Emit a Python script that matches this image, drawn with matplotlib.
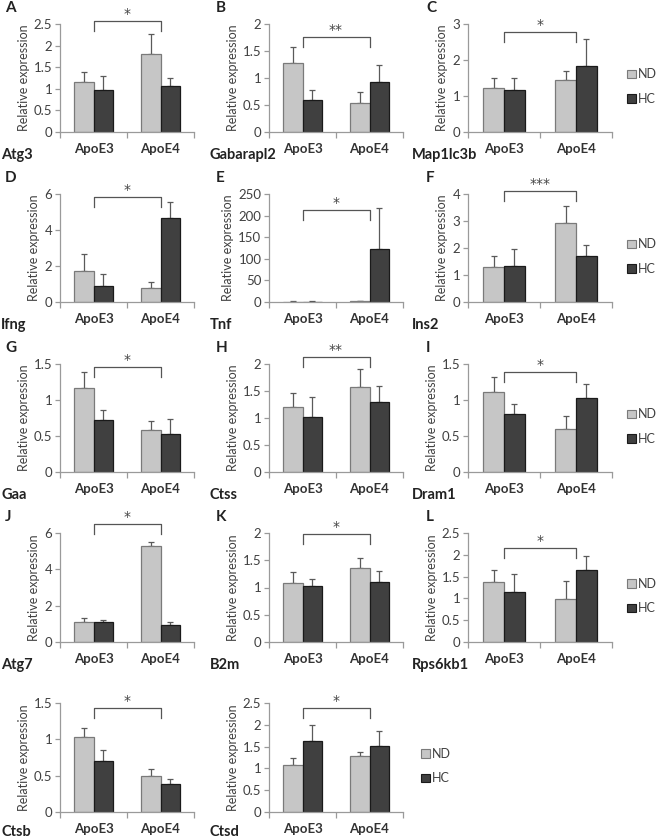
import matplotlib
matplotlib.use('Agg')
import matplotlib.pyplot as plt
from matplotlib.patches import Patch
from matplotlib.ticker import FuncFormatter, MultipleLocator

plt.rcParams['font.family'] = ['Lato', 'DejaVu Sans']

# ---------------- data ----------------
groups = ['ApoE3', 'ApoE4']
series = ['ND', 'HC']
genes = ['Atg3', 'Gabarapl2', 'Map1lc3b', 'Ifng', 'Tnf', 'Ins2', 'Gaa', 'Ctss',
         'Dram1', 'Atg7', 'B2m', 'Rps6kb1', 'Ctsb', 'Ctsd']
letters = ['A', 'B', 'C', 'D', 'E', 'F', 'G', 'H', 'I', 'J', 'K', 'L', '', '']

nd_mean = [[1.16, 1.80], [1.27, 0.53], [1.21, 1.44], [1.73, 0.78], [1.0, 2.0],
           [1.28, 2.91], [1.16, 0.58], [1.20, 1.58], [1.11, 0.60], [1.08, 5.30],
           [1.08, 1.36], [1.37, 0.98], [1.03, 0.50], [1.08, 1.29]]
nd_err = [[0.22, 0.48], [0.31, 0.21], [0.30, 0.25], [0.91, 0.34], [0.3, 1.0],
          [0.42, 0.64], [0.23, 0.13], [0.27, 0.32], [0.21, 0.18], [0.22, 0.18],
          [0.20, 0.19], [0.28, 0.41], [0.12, 0.09], [0.17, 0.08]]
hc_mean = [[0.97, 1.06], [0.60, 0.93], [1.16, 1.83], [0.89, 4.68], [1.0, 122],
           [1.33, 1.71], [0.72, 0.53], [1.02, 1.29], [0.81, 1.03], [1.08, 0.93],
           [1.02, 1.11], [1.14, 1.66], [0.70, 0.39], [1.63, 1.52]]
hc_err = [[0.32, 0.20], [0.17, 0.31], [0.33, 0.74], [0.65, 0.90], [0.5, 96],
          [0.65, 0.40], [0.14, 0.20], [0.36, 0.31], [0.14, 0.19], [0.13, 0.19],
          [0.14, 0.19], [0.41, 0.31], [0.15, 0.07], [0.36, 0.34]]
ymax = [2.5, 2, 3, 6, 250, 4, 1.5, 2, 1.5, 6, 2, 2.5, 1.5, 2.5]
ystep = [0.5, 0.5, 1, 2, 50, 1, 0.5, 0.5, 0.5, 2, 0.5, 0.5, 0.5, 0.5]
sig = ['*', '**', '*', '*', '*', '***', '*', '**', '*', '*', '*', '*', '*', '*']

# ---------------- layout ----------------
W, H = 659, 839
bracket_top = [1.028, 0.88, 0.926, 0.972, 0.85, 1.03, 0.972, 1.065, 0.926,
               1.08, 0.99, 0.86, 0.954, 0.954]
col_x = [(60, 194), (269, 403), (468, 612)]
row_y = [(24, 132), (194, 302), (364, 472), (533, 642), (703, 812)]
gene_dy = [23, 23, 23, 23, 20]
gene_x = [1, 210, 412]
letter_x = [5, 216, 426]

ND_COLOR = '#c6c6c6'
HC_COLOR = '#404040'
AX_COLOR = '#9a9a9a'
TXT = '#404040'

fig = plt.figure(figsize=(W / 100, H / 100), dpi=100)
fig.patch.set_facecolor('white')

bw = 0.29
fmt = FuncFormatter(lambda v, p: '%g' % v)

for i, gene in enumerate(genes):
    r, c = divmod(i, 3)
    x0, x1 = col_x[c]
    t, b = row_y[r]
    ax = fig.add_axes([x0 / W, 1 - b / H, (x1 - x0) / W, (b - t) / H])
    xs = [0, 1]
    ax.bar([x - bw / 2 for x in xs], nd_mean[i], bw, color=ND_COLOR,
           edgecolor='#7a7a7a', linewidth=0.9, zorder=2)
    ax.bar([x + bw / 2 for x in xs], hc_mean[i], bw, color=HC_COLOR,
           edgecolor='#1a1a1a', linewidth=0.9, zorder=2)
    ax.errorbar([x - bw / 2 for x in xs], nd_mean[i],
                yerr=[[0, 0], nd_err[i]], fmt='none', ecolor='#5a5a5a',
                elinewidth=0.9, capsize=2.3, capthick=0.9, zorder=1)
    ax.errorbar([x + bw / 2 for x in xs], hc_mean[i],
                yerr=[[0, 0], hc_err[i]], fmt='none', ecolor='#5a5a5a',
                elinewidth=0.9, capsize=2.3, capthick=0.9, zorder=1)
    ax.set_xlim(-0.5, 1.5)
    ax.set_ylim(0, ymax[i])
    ax.yaxis.set_major_locator(MultipleLocator(ystep[i]))
    ax.yaxis.set_major_formatter(fmt)
    for s in ['top', 'right']:
        ax.spines[s].set_visible(False)
    for s in ['left', 'bottom']:
        ax.spines[s].set_color(AX_COLOR)
        ax.spines[s].set_linewidth(0.9)
    ax.set_xticks(xs)
    ax.set_xticklabels(groups, fontweight='bold', fontsize=9.5, color='#333333')
    ax.set_xticks([-0.5, 0.5, 1.5], minor=True)
    ax.tick_params(axis='x', which='major', length=0, pad=8)
    ax.tick_params(axis='x', which='minor', length=4, color=AX_COLOR, width=0.9)
    ax.tick_params(axis='y', length=3.5, color=AX_COLOR, width=0.9,
                   labelsize=9.5, labelcolor=TXT, pad=2)
    ax.set_ylabel('Relative expression', fontsize=9, color=TXT, labelpad=3)

    # significance bracket
    yt = bracket_top[i] * ymax[i]
    yl = (bracket_top[i] - 0.092) * ymax[i]
    ax.plot([0, 0, 1, 1], [yl, yt, yt, yl], color='#555555', lw=0.9,
            clip_on=False, zorder=3)
    ax.annotate(sig[i], xy=(0.5, yt), xytext=(0, 0), textcoords='offset points',
                ha='center', va='bottom', fontsize=10, color='#444444',
                family='DejaVu Sans', annotation_clip=False)

    # gene name
    fig.text(gene_x[c] / W, 1 - (b + gene_dy[r]) / H, gene, fontsize=10.5,
             fontweight='bold', color='#222222', ha='left', va='center')
    # panel letter
    if letters[i]:
        fig.text(letter_x[c] / W, 1 - (t - 16) / H, letters[i], fontsize=11,
                 fontweight='bold', color='#222222', ha='left', va='center')

    # legend
    if (c == 2) or (i == len(genes) - 1):
        lx = (627 - x0) / (x1 - x0) if c == 2 else (421 - x0) / (x1 - x0)
        handles = [Patch(facecolor=ND_COLOR, edgecolor='#7a7a7a', linewidth=0.8),
                   Patch(facecolor=HC_COLOR, edgecolor='#1a1a1a', linewidth=0.8)]
        ax.legend(handles, series, loc='center left', bbox_to_anchor=(lx, 0.42),
                  frameon=False, fontsize=9, handlelength=0.7, handleheight=0.7,
                  handletextpad=0.2, labelspacing=1.0, borderpad=0,
                  borderaxespad=0, labelcolor=TXT)

fig.savefig('out.png', dpi=100, facecolor='white')
